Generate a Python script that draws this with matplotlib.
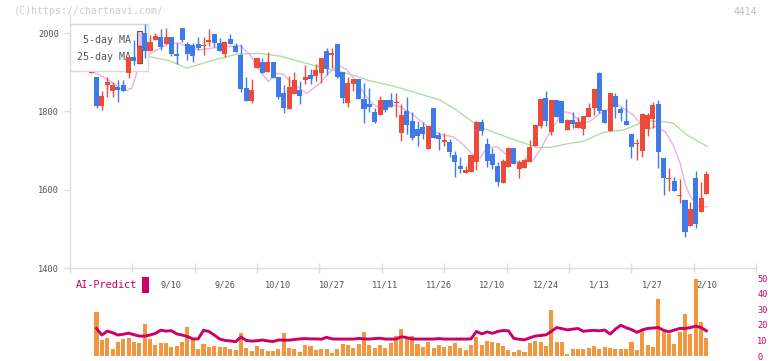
import numpy as np
import matplotlib
matplotlib.use("Agg")
import matplotlib.pyplot as plt
from matplotlib.patches import Rectangle
from matplotlib.transforms import blended_transform_factory

plt.rcParams['font.family'] = ['DejaVu Sans Mono']

# ---------------- data ----------------
opens = [1899, 1888, 1814, 1866, 1853, 1863, 1867, 1899, 1938, 1923,
         1999, 1955, 1982, 1989, 1973, 1989, 1946, 2012, 1972, 1969,
         1972, 1966, 1978, 1997, 1974, 1946, 1985, 1967, 1944, 1859,
         1826, 1911, 1925, 1901, 1925, 1888, 1846, 1805, 1844, 1854,
         1880, 1893, 1891, 1899, 1954, 1944, 1972, 1900, 1822, 1871,
         1882, 1831, 1819, 1798, 1791, 1829, 1829, 1822, 1745, 1800,
         1776, 1755, 1759, 1704, 1809, 1740, 1723, 1723, 1689, 1660,
         1642, 1646, 1670, 1772, 1716, 1690, 1660, 1616, 1659, 1706,
         1652, 1656, 1670, 1712, 1763, 1834, 1746, 1829, 1826, 1753,
         1778, 1758, 1754, 1786, 1809, 1899, 1803, 1750, 1839, 1806,
         1775, 1742, 1716, 1700, 1754, 1780, 1819, 1680, 1628, 1622,
         1584, 1574, 1508, 1629, 1544, 1588]
highs = [1901, 1888, 1852, 1888, 1876, 1880, 1880, 1938, 1982, 1970,
         2022, 1995, 2000, 2010, 2012, 1990, 1974, 2014, 1977, 1974,
         1989, 1989, 2010, 1997, 1988, 1980, 1997, 1974, 1971, 1888,
         1882, 1937, 1937, 1952, 1925, 1888, 1867, 1890, 1900, 1878,
         1919, 1908, 1920, 1935, 1962, 1962, 1972, 1900, 1888, 1882,
         1882, 1872, 1859, 1808, 1840, 1829, 1848, 1846, 1819, 1837,
         1799, 1776, 1774, 1763, 1809, 1748, 1744, 1729, 1700, 1684,
         1660, 1689, 1775, 1780, 1731, 1706, 1671, 1678, 1710, 1706,
         1676, 1680, 1727, 1765, 1831, 1852, 1829, 1829, 1826, 1780,
         1799, 1786, 1788, 1822, 1857, 1901, 1803, 1848, 1846, 1812,
         1831, 1742, 1729, 1797, 1795, 1824, 1829, 1680, 1655, 1632,
         1626, 1574, 1569, 1648, 1620, 1648]
lows = [1898, 1808, 1803, 1837, 1837, 1825, 1852, 1884, 1918, 1920,
        1935, 1955, 1982, 1957, 1973, 1941, 1921, 1978, 1931, 1925,
        1957, 1945, 1967, 1965, 1955, 1940, 1971, 1952, 1849, 1827,
        1822, 1911, 1899, 1901, 1886, 1831, 1795, 1805, 1844, 1819,
        1870, 1870, 1878, 1872, 1893, 1911, 1885, 1822, 1812, 1853,
        1832, 1769, 1798, 1769, 1791, 1798, 1812, 1786, 1725, 1742,
        1727, 1712, 1729, 1704, 1733, 1701, 1712, 1684, 1632, 1642,
        1642, 1646, 1650, 1740, 1657, 1652, 1610, 1616, 1659, 1665,
        1629, 1656, 1670, 1712, 1757, 1763, 1740, 1786, 1769, 1753,
        1757, 1758, 1740, 1786, 1791, 1795, 1769, 1750, 1784, 1776,
        1765, 1682, 1676, 1684, 1737, 1757, 1655, 1586, 1597, 1597,
        1567, 1480, 1508, 1503, 1544, 1588]
closes = [1900, 1814, 1839, 1876, 1866, 1854, 1852, 1938, 1928, 1965,
          1954, 1978, 1992, 1965, 1989, 1946, 1942, 1981, 1947, 1942,
          1962, 1967, 1982, 1975, 1955, 1976, 1971, 1952, 1857, 1827,
          1854, 1937, 1899, 1925, 1886, 1837, 1809, 1863, 1880, 1840,
          1888, 1883, 1905, 1935, 1908, 1948, 1888, 1835, 1872, 1882,
          1832, 1807, 1811, 1773, 1829, 1803, 1812, 1823, 1791, 1764,
          1733, 1738, 1742, 1763, 1733, 1729, 1727, 1697, 1671, 1653,
          1650, 1689, 1772, 1751, 1674, 1663, 1619, 1674, 1706, 1665,
          1671, 1676, 1708, 1765, 1831, 1776, 1829, 1786, 1769, 1778,
          1767, 1774, 1788, 1809, 1857, 1801, 1769, 1848, 1812, 1797,
          1765, 1710, 1717, 1793, 1791, 1816, 1695, 1629, 1629, 1597,
          1585, 1493, 1551, 1512, 1580, 1640]

# 5-day MA (candle index, price)
ma5_idx = [0.4, 2.3, 4.1, 6.0, 7.6, 9.4, 12.9, 14.7, 16.6, 18.5, 20.3, 22.8, 25.0,
           27.8, 29.7, 31.2, 33.1, 34.7, 35.9, 37.2, 38.1, 40.3, 42.8, 44.3, 46.2,
           47.8, 49.6, 51.2, 52.7, 54.6, 56.5, 57.7, 60.2, 62.1, 64.0, 65.8, 67.7,
           69.6, 71.1, 72.7, 73.9, 75.8, 77.3, 78.3, 80.0, 82.6, 83.9, 85.8, 88.3,
           89.8, 91.7, 93.2, 95.1, 96.7, 98.2, 99.5, 101.3, 102.6, 104.1, 105.4,
           107.3, 108.8, 110.1, 111.0, 112.0, 113.8, 115.2]
ma5_val = [1900, 1888, 1872, 1852, 1859, 1935, 1961, 1974, 1974, 1961, 1957, 1962, 1965,
           1968, 1944, 1910, 1876, 1897, 1895, 1876, 1867, 1846, 1872, 1897, 1918,
           1906, 1876, 1842, 1818, 1803, 1816, 1812, 1791, 1770, 1748, 1740, 1735,
           1714, 1693, 1680, 1706, 1710, 1693, 1684, 1668, 1676, 1701, 1748, 1799,
           1795, 1770, 1774, 1795, 1805, 1819, 1808, 1791, 1770, 1754, 1761,
           1748, 1714, 1667, 1616, 1582, 1553, 1557]

# 25-day MA (candle index, price)
ma25_idx = [10.7, 14.7, 17.9, 20.9, 23.5, 27.2, 31.6, 35.3, 39.0, 43.7, 47.8, 52.1,
            56.4, 62.0, 65.2, 68.3, 70.8, 73.2, 78.3, 83.3, 85.8, 88.9, 91.9, 95.7,
            99.4, 103.8, 106.9, 108.8, 111.3, 115.2]
ma25_val = [1940, 1929, 1910, 1923, 1933, 1946, 1948, 1941, 1927, 1910, 1897, 1878,
            1865, 1842, 1829, 1803, 1778, 1757, 1731, 1708, 1708, 1717, 1723, 1746,
            1752, 1776, 1774, 1770, 1740, 1710]

# volume (scaled to the 0-50 panel) and AI-Predict, candles 1..115
volume = [28.2, 10.5, 11.6, 4.2, 9.2, 10.9, 11.6, 9.2, 8.4, 20.4,
          10.9, 7.2, 8.4, 8.4, 6.1, 6.5, 9.2, 18.5, 10.3, 4.2,
          7.8, 6.1, 6.5, 5.9, 5.9, 4.2, 3.8, 14.7, 5.2, 2.9,
          6.5, 4.8, 3.4, 2.9, 4.2, 14.7, 5.0, 4.2, 2.5, 7.2,
          6.5, 3.6, 4.6, 4.6, 2.1, 4.2, 7.8, 7.2, 5.2, 7.8,
          15.6, 7.2, 5.2, 7.2, 5.2, 8.5, 13.0, 17.3, 10.9, 13.0,
          7.8, 6.1, 9.2, 5.2, 7.2, 6.1, 6.5, 8.4, 5.2, 3.6,
          7.2, 12.4, 7.2, 9.9, 9.2, 8.4, 6.5, 3.6, 2.3, 3.6,
          2.3, 8.4, 9.9, 9.2, 6.5, 29.5, 9.2, 9.2, 1.5, 4.6,
          4.2, 4.6, 5.2, 6.5, 4.2, 5.9, 5.2, 4.6, 4.6, 4.6,
          9.2, 3.6, 16.0, 7.2, 5.9, 36.9, 15.6, 14.1, 7.8, 15.2,
          26.8, 14.1, 49.6, 21.9, 11.6]
ai_predict = [17.7, 13.5, 16.0, 15.0, 13.5, 14.0, 14.7, 13.7, 12.8, 12.8,
              13.5, 14.5, 16.6, 16.0, 16.3, 14.2, 13.5, 12.5, 11.0, 11.0,
              16.5, 15.8, 13.5, 11.0, 10.0, 9.7, 9.2, 12.2, 10.0, 9.6,
              9.8, 10.3, 9.7, 9.3, 10.3, 10.2, 10.2, 10.6, 11.0, 11.2,
              11.0, 11.0, 10.8, 12.0, 11.0, 10.9, 10.9, 10.9, 10.9, 11.3,
              11.0, 10.9, 11.2, 11.4, 10.9, 10.9, 10.9, 12.4, 11.8, 11.0,
              10.9, 10.9, 10.9, 10.9, 11.2, 10.9, 10.9, 10.9, 10.9, 10.9,
              11.0, 15.8, 14.2, 15.5, 14.6, 15.8, 16.4, 16.2, 11.3, 10.8,
              10.4, 11.7, 12.8, 13.2, 13.6, 15.8, 18.3, 17.6, 16.8, 17.3,
              17.7, 15.9, 16.3, 16.5, 16.2, 16.7, 14.1, 17.3, 19.8, 18.2,
              17.0, 15.2, 16.8, 17.7, 18.0, 18.3, 16.5, 15.6, 16.7, 17.7,
              17.7, 18.3, 19.2, 18.3, 16.2]

date_labels = ["9/10", "9/26", "10/10", "10/27", "11/11", "11/26",
               "12/10", "12/24", "1/13", "1/27", "2/10"]
date_idx = [15, 25, 35, 45, 55, 65, 75, 85, 95, 105, 115]
price_ticks = [1400, 1600, 1800, 2000]
panel_ticks = [0, 10, 20, 30, 40, 50]

# ---------------- styling ----------------
W, H = 772, 361
C_UP = "#ee4a3a"
C_DOWN = "#3f7be8"
C_MA5 = "#e8b2e8"
C_MA25 = "#b4dca6"
C_VOL = "#f2963f"
C_AI = "#cc0066"
C_AXIS = "#dddddd"
C_TXT = "#555555"

fig = plt.figure(figsize=(W / 100, H / 100), dpi=100)
fig.patch.set_facecolor("white")

AX_L, AX_R = 70, 756
main_top, main_bot = 15, 268
ax = fig.add_axes([AX_L / W, (H - main_bot) / H, (AX_R - AX_L) / W, (main_bot - main_top) / H])
low_top, low_bot = 277.5, 356.0
ax2 = fig.add_axes([AX_L / W, (H - low_bot) / H, (AX_R - AX_L) / W, (low_bot - low_top) / H])

x0_px, dx_px = 91.15, 5.35
xlim = ((AX_L - x0_px) / dx_px, (AX_R - x0_px) / dx_px)
for a in (ax, ax2):
    a.set_xlim(*xlim)
    a.set_facecolor("none")

ax.set_ylim(1400, 2046)
ax2.set_ylim(0, 50.5)

def px2ax(px, py):
    return (px - AX_L) / (AX_R - AX_L), (main_bot - py) / (main_bot - main_top)

# legend box (beneath candles, above MA lines)
bx0, by0 = px2ax(70, 71)
bx1, by1 = px2ax(148, 24)
ax.add_patch(Rectangle((bx0, by0), bx1 - bx0, by1 - by0, transform=ax.transAxes,
                       facecolor="white", edgecolor="#d8d8d8", lw=1.0, zorder=3))
tx, ty = px2ax(131, 40)
ax.text(tx, ty, "5-day MA", transform=ax.transAxes, ha="right", va="center",
        fontsize=7.2, color=C_TXT, zorder=4)
tx, ty = px2ax(131, 57)
ax.text(tx, ty, "25-day MA", transform=ax.transAxes, ha="right", va="center",
        fontsize=7.2, color=C_TXT, zorder=4)
ix0, iy0 = px2ax(137, 46.5)
ix1, iy1 = px2ax(142, 31)
ax.add_patch(Rectangle((ix0, iy0), ix1 - ix0, iy1 - iy0, transform=ax.transAxes,
                       facecolor="#e6bfee", edgecolor="#555555", lw=0.8, zorder=4))
ix0, iy0 = px2ax(137, 63)
ix1, iy1 = px2ax(142, 46.5)
ax.add_patch(Rectangle((ix0, iy0), ix1 - ix0, iy1 - iy0, transform=ax.transAxes,
                       facecolor="#b4dca6", edgecolor="#555555", lw=0.8, zorder=4))

# moving averages
ax.plot(ma25_idx, ma25_val, color=C_MA25, lw=1.0, zorder=2)
ax.plot(ma5_idx, ma5_val, color=C_MA5, lw=1.0, zorder=2)

# candles
idx = np.arange(len(closes))
o = np.array(opens, float); c = np.array(closes, float)
hi = np.array(highs, float); lo = np.array(lows, float)
up = c >= o
cols = np.where(up, C_UP, C_DOWN)
ax.vlines(idx, lo, hi, colors=cols, lw=1.0, zorder=5)
body_bot = np.minimum(o, c)
body_h = np.maximum(np.abs(c - o), 2.6)
ax.bar(idx, body_h, bottom=body_bot, width=0.95, color=cols, lw=0, zorder=6)

# main axes styling
for s in ("top", "right"):
    ax.spines[s].set_visible(False)
for s in ("left", "bottom"):
    ax.spines[s].set_color(C_AXIS)
    ax.spines[s].set_linewidth(1.0)
ax.set_yticks(price_ticks)
ax.set_yticklabels([str(v) for v in price_ticks])
ax.tick_params(axis="y", direction="out", length=4, width=1, color=C_AXIS,
               labelsize=6.2, labelcolor=C_TXT, pad=4)
ax.set_xticks(np.linspace(xlim[0], xlim[1], 12))
ax.set_xticklabels([])
ax.tick_params(axis="x", direction="inout", length=7, width=1, color=C_AXIS)

# date labels
trans = blended_transform_factory(ax.transData, fig.transFigure)
for k, lab in zip(date_idx, date_labels):
    ax.text(k, 1 - 285 / H, lab, transform=trans, ha="center", va="center",
            fontsize=6.2, color=C_TXT, clip_on=False)

# lower panel: volume + AI-Predict
vidx = np.arange(1, len(volume) + 1)
ax2.bar(vidx, volume, width=0.75, color=C_VOL, lw=0, zorder=2)
ax2.plot(vidx, ai_predict, color=C_AI, lw=2.1, zorder=3, solid_joinstyle="round")
for s in ax2.spines.values():
    s.set_visible(False)
ax2.set_xticks([])
ax2.yaxis.tick_right()
ax2.set_yticks(panel_ticks)
ax2.set_yticklabels([str(v) for v in panel_ticks])
ax2.tick_params(axis="y", length=0, labelsize=6.2, labelcolor=C_AI, pad=1)
ax2.get_yticklabels()[0].set_verticalalignment("center_baseline")

fig.text(76 / W, 1 - 285 / H, "AI-Predict", ha="left", va="center",
         fontsize=7.4, color=C_AI)
fig.add_artist(Rectangle((142.3 / W, 1 - 292.7 / H), 6.7 / W, 16 / H,
                         transform=fig.transFigure, facecolor=C_AI, edgecolor="none"))

# watermark and code
fig.text(14 / W, 1 - 11 / H, "(C)https://chartnavi.com/", ha="left", va="center",
         fontsize=7.2, color="#cccccc")
fig.text(757 / W, 1 - 12 / H, "4414", ha="right", va="center",
         fontsize=7.0, color="#bbbbbb")

fig.savefig("out.png", dpi=100, facecolor="white")
